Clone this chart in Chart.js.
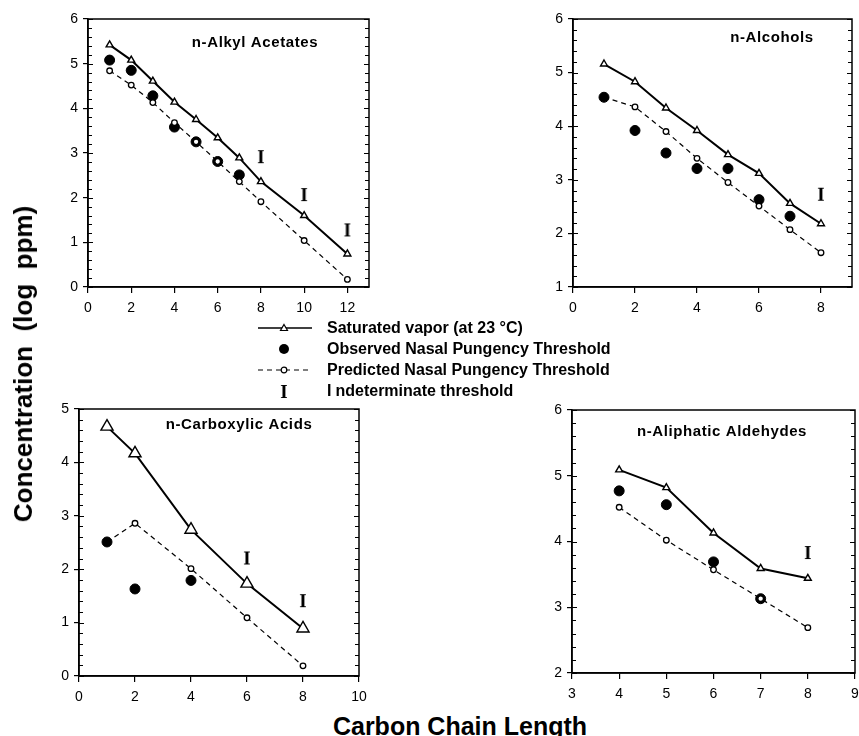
<!DOCTYPE html>
<html>
<head>
<meta charset="utf-8">
<script src="https://cdn.jsdelivr.net/npm/chart.js@4.4.0/dist/chart.umd.min.js"></script>
<style>
  body{margin:0;background:#fff;width:859px;height:736px;overflow:hidden;position:relative;
       font-family:"Liberation Sans",Arial,Helvetica,sans-serif;color:#000;}
  canvas{position:absolute;}
  .row{position:absolute;left:250px;height:20px;line-height:20px;font-size:16px;font-weight:bold;white-space:nowrap;}
  .row svg{position:absolute;left:6px;top:0;}
  .row .txt{position:absolute;left:77px;top:0;}
  .row .sym{position:absolute;left:28px;top:0;width:12px;text-align:center;
            font:bold 19px "Liberation Serif","Times New Roman",serif;}
  #ytitle{position:absolute;left:23px;top:364px;transform:translate(-50%,-50%) rotate(-90deg);
          white-space:pre;font-weight:bold;font-size:26px;line-height:1;}
  #xtitle{position:absolute;left:460px;top:726px;transform:translate(-50%,-50%);
          white-space:nowrap;font-weight:bold;font-size:25px;line-height:1;}
</style>
</head>
<body>

<canvas id="p1"></canvas>
<canvas id="p2"></canvas>
<canvas id="p3"></canvas>
<canvas id="p4"></canvas>

<div class="row" style="top:318px">
  <svg width="60" height="20"><line x1="2" y1="10" x2="56" y2="10" stroke="#000" stroke-width="1.3"/>
  <polygon points="28,6.5 31.5,12.5 24.5,12.5" fill="#fff" stroke="#000" stroke-width="1.2"/></svg>
  <span class="txt">Saturated vapor (at 23 °C)</span>
</div>
<div class="row" style="top:339px">
  <svg width="60" height="20"><circle cx="28" cy="10" r="5" fill="#000"/></svg>
  <span class="txt">Observed Nasal Pungency Threshold</span>
</div>
<div class="row" style="top:360px">
  <svg width="60" height="20"><line x1="2" y1="10" x2="56" y2="10" stroke="#000" stroke-width="1.1" stroke-dasharray="5,4"/>
  <circle cx="28" cy="10" r="2.8" fill="#fff" stroke="#000" stroke-width="1.2"/></svg>
  <span class="txt">Predicted Nasal Pungency Threshold</span>
</div>
<div class="row" style="top:381px">
  <span class="sym">I</span>
  <span class="txt"><span style="margin-right:4px">I</span>ndeterminate threshold</span>
</div>

<div id="ytitle">Concentration  (log  ppm)</div>
<div id="xtitle">Carbon Chain Length</div>

<script>

/* ================= DATA ================= */

// n-Alkyl Acetates
const acetX      = [1,2,3,4,5,6,7,8,10,12];
const acetSat    = [5.42,5.08,4.61,4.14,3.75,3.34,2.89,2.36,1.60,0.74];
const acetObsX   = [1,2,3,4,5,6,7];
const acetObs    = [5.08,4.85,4.28,3.58,3.25,2.81,2.51];
const acetPred   = [4.84,4.52,4.13,3.68,3.25,2.81,2.36,1.91,1.04,0.17];
const acetIndX   = [8,10,12];
const acetInd    = [2.93,2.08,1.29];

// n-Alcohols
const alcX       = [1,2,3,4,5,6,7,8];
const alcSat     = [5.16,4.83,4.34,3.92,3.47,3.12,2.56,2.18];
const alcObsX    = [1,2,3,4,5,6,7];
const alcObs     = [4.54,3.92,3.50,3.21,3.21,2.63,2.32];
const alcPred    = [4.54,4.36,3.90,3.40,2.95,2.51,2.07,1.64];
const alcIndX    = [8];
const alcInd     = [2.74];

// n-Carboxylic Acids
const acidX      = [1,2,4,6,8];
const acidSat    = [4.67,4.17,2.74,1.73,0.89];
const acidObsX   = [1,2,4];
const acidObs    = [2.51,1.63,1.79];
const acidPred   = [2.51,2.86,2.01,1.09,0.19];
const acidIndX   = [6,8];
const acidInd    = [2.22,1.42];

// n-Aliphatic Aldehydes
const aldX       = [4,5,6,7,8];
const aldSat     = [5.09,4.82,4.13,3.59,3.44];
const aldObsX    = [4,5,6,7];
const aldObs     = [4.77,4.56,3.69,3.13];
const aldPred    = [4.52,4.02,3.57,3.13,2.69];
const aldIndX    = [8];
const aldInd     = [3.84];


/* ================= DEFAULTS ================= */

Chart.defaults.font.family = '"Liberation Sans", Arial, Helvetica, sans-serif';
Chart.defaults.font.size = 14;
Chart.defaults.color = '#000';

const TICKFONT = {size:14};


/* ================= "I" MARKER ================= */

function makeIMark(){

  const c = document.createElement('canvas');
  c.width = 12;
  c.height = 20;

  const g = c.getContext('2d');
  g.fillStyle = '#000';
  g.font = 'bold 19px "Liberation Serif", "Times New Roman", serif';
  g.textAlign = 'center';
  g.textBaseline = 'alphabetic';
  g.fillText('I', 6, 16.5);

  return c;

}

const iMark = makeIMark();


/* ================= FRAME + MINOR TICKS ================= */

const frameTicks = {

  id:'frameTicks',

  afterDraw(chart, args, opts){

    const {ctx, chartArea:a, scales} = chart;
    const y = scales.y;

    ctx.save();
    ctx.strokeStyle = '#000';
    ctx.lineWidth = 1;

    const n = Math.round((y.max - y.min) / opts.minor);
    const per = Math.round(1 / opts.minor);

    ctx.beginPath();
    for(let i = 0; i <= n; i++){
      const py = Math.round(y.getPixelForValue(y.min + i * opts.minor)) + 0.5;
      const len = (i % per === 0) ? 5 : 4;
      ctx.moveTo(a.left, py);
      ctx.lineTo(a.left + len, py);
      ctx.moveTo(a.right, py);
      ctx.lineTo(a.right - len, py);
    }
    ctx.stroke();

    ctx.lineWidth = 1.5;
    ctx.strokeRect(a.left, a.top, a.right - a.left, a.bottom - a.top);

    // panel name
    ctx.fillStyle = '#000';
    ctx.font = 'bold 15px "Liberation Sans", Arial, sans-serif';
    ctx.textAlign = 'center';
    ctx.textBaseline = 'middle';
    if('letterSpacing' in ctx) ctx.letterSpacing = '0.6px';
    ctx.fillText(opts.label, a.left + opts.lx, a.top + opts.ly);

    ctx.restore();

  }

};


/* ================= BUILD ================= */

function pts(xs, ys){

  return xs.map((x,i) => ({x:x, y:ys[i]}));

}

// ticks every `step` from min, never adding an extra one at an odd max
function stepTicks(step){

  return function(s){
    const out = [];
    const n = Math.floor((s.max - s.min) / step + 1e-6);
    for(let i = 0; i <= n; i++){
      out.push({value: s.min + i * step});
    }
    s.ticks = out;
  };

}

function buildSets(p){

  return [

    {
      label:'Indeterminate threshold',
      data:pts(p.indX, p.ind),
      showLine:false,
      pointStyle:iMark,
      pointRadius:8
    },

    {
      label:'Predicted Nasal Pungency Threshold',
      data:pts(p.x, p.pred),
      showLine:true,
      borderColor:'#000',
      borderWidth:1.2,
      borderDash:[5,4],
      pointStyle:'circle',
      pointRadius:(c) => (p.hideFirst && c.dataIndex === 0) ? 0 : 2.8,
      pointBackgroundColor:'#fff',
      pointBorderColor:'#000',
      pointBorderWidth:1.3
    },

    {
      label:'Observed Nasal Pungency Threshold',
      data:pts(p.obsX, p.obs),
      showLine:false,
      pointStyle:'circle',
      pointRadius:5,
      pointBackgroundColor:'#000',
      pointBorderColor:'#000',
      pointBorderWidth:1
    },

    {
      label:'Saturated vapor (at 23 °C)',
      data:pts(p.x, p.sat),
      showLine:true,
      borderColor:'#000',
      borderWidth:2,
      pointStyle:'triangle',
      pointRadius:p.triR,
      pointBackgroundColor:'#fff',
      pointBorderColor:'#000',
      pointBorderWidth:1.4
    }

  ];

}

function makePanel(id, box, p){

  const padL = 45, padT = 15, padR = 15, padB = 35;

  const cv = document.getElementById(id);
  cv.width  = box.r - box.l + padL + padR;
  cv.height = box.b - box.t + padT + padB;
  cv.style.left = (box.l - padL) + 'px';
  cv.style.top  = (box.t - padT) + 'px';

  return new Chart(cv, {

    type:'scatter',

    data:{ datasets:buildSets(p) },

    options:{

      responsive:false,
      animation:false,
      events:[],

      layout:{ padding:{top:padT, right:padR, left:0, bottom:0} },

      plugins:{
        legend:{display:false},
        tooltip:{enabled:false},
        frameTicks:{minor:0.2, label:p.name, lx:p.lx, ly:p.ly}
      },

      scales:{

        x:{
          type:'linear',
          min:p.xMin, max:p.xMax,
          afterBuildTicks:stepTicks(p.xStep),
          afterFit(s){ s.height = padB; },
          ticks:{stepSize:p.xStep, font:TICKFONT, color:'#000', padding:7, maxRotation:0, autoSkip:false},
          grid:{drawOnChartArea:false, drawTicks:true, tickLength:6, color:'#000', lineWidth:1.2},
          border:{display:true, color:'#000', width:1.5}
        },

        y:{
          type:'linear',
          min:p.yMin, max:p.yMax,
          afterFit(s){ s.width = padL; },
          ticks:{stepSize:1, font:TICKFONT, color:'#000', padding:5},
          grid:{drawOnChartArea:false, drawTicks:true, tickLength:5, color:'#000', lineWidth:1.2},
          border:{display:true, color:'#000', width:1.5}
        }

      }

    },

    plugins:[frameTicks]

  });

}


makePanel('p1', {l:88, r:369, t:19, b:287}, {
  name:'n-Alkyl Acetates', lx:167, ly:24,
  xMin:0, xMax:13, xStep:2, yMin:0, yMax:6, triR:4,
  x:acetX, sat:acetSat, obsX:acetObsX, obs:acetObs, pred:acetPred,
  indX:acetIndX, ind:acetInd
});

makePanel('p2', {l:573, r:852, t:19, b:287}, {
  name:'n-Alcohols', lx:199, ly:19,
  xMin:0, xMax:9, xStep:2, yMin:1, yMax:6, triR:4, hideFirst:true,
  x:alcX, sat:alcSat, obsX:alcObsX, obs:alcObs, pred:alcPred,
  indX:alcIndX, ind:alcInd
});

makePanel('p3', {l:79, r:359, t:409, b:676}, {
  name:'n-Carboxylic Acids', lx:160, ly:16,
  xMin:0, xMax:10, xStep:2, yMin:0, yMax:5, triR:7, hideFirst:true,
  x:acidX, sat:acidSat, obsX:acidObsX, obs:acidObs, pred:acidPred,
  indX:acidIndX, ind:acidInd
});

makePanel('p4', {l:572, r:855, t:410, b:673}, {
  name:'n-Aliphatic Aldehydes', lx:150, ly:22,
  xMin:3, xMax:9, xStep:1, yMin:2, yMax:6, triR:4,
  x:aldX, sat:aldSat, obsX:aldObsX, obs:aldObs, pred:aldPred,
  indX:aldIndX, ind:aldInd
});

</script>
</body>
</html>
